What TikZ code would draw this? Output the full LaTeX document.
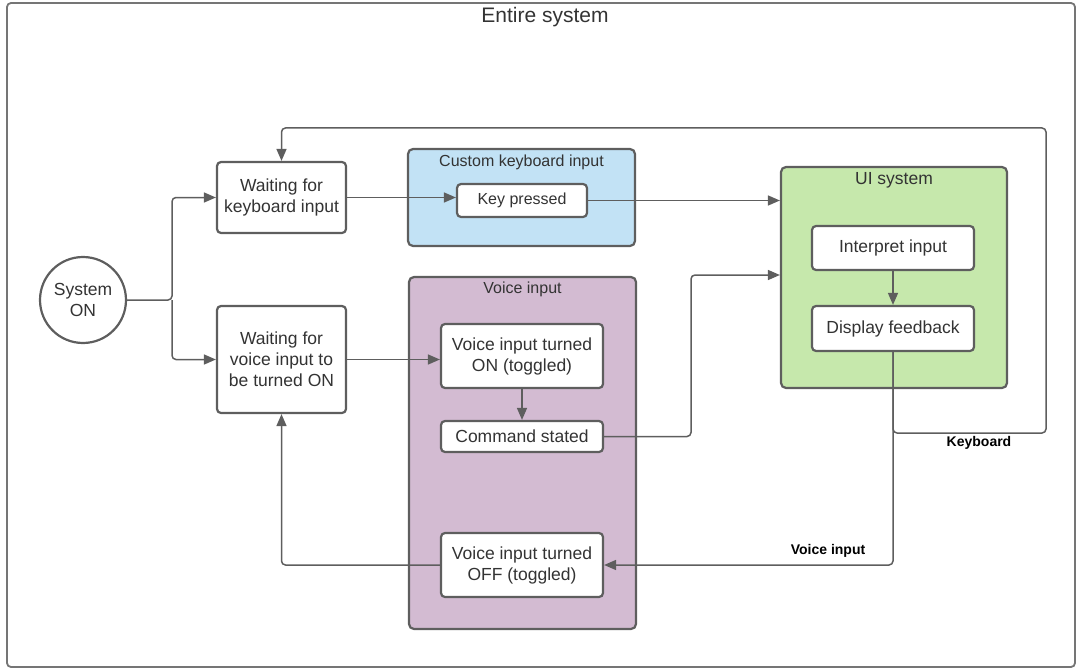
\documentclass[tikz,border=0pt]{standalone}
\usepackage{fontspec}
\setmainfont{Liberation Sans}
\usetikzlibrary{arrows.meta}
\definecolor{linegray}{HTML}{5E5E5E}
\definecolor{framegray}{HTML}{757575}
\definecolor{txtgray}{HTML}{333333}
\definecolor{kbblue}{RGB}{194,226,245}
\definecolor{uigreen}{RGB}{198,232,172}
\definecolor{vpurple}{RGB}{211,187,210}

\begin{document}
\begin{tikzpicture}[x=1pt, y=-1pt,
  every node/.style={text=txtgray},
  box/.style={draw=linegray, line width=2.2pt, fill=white, rounded corners=4pt, align=center, inner sep=0pt, font=\fontsize{17.5}{21}\selectfont},
  group/.style={draw=linegray, line width=2.2pt, rounded corners=5pt, inner sep=0pt},
  conn/.style={draw=linegray, line width=1.5pt, rounded corners=4pt, -{Triangle[length=12pt,width=10pt]}},
  lbl/.style={font=\fontsize{14}{16}\selectfont\bfseries, text=black}]
 \useasboundingbox (0,0) rectangle (1078,671);
 \draw[framegray, line width=1.8pt, rounded corners=4pt] (7,3) rectangle (1075,667);
 \node[font=\fontsize{21}{24}\selectfont] (title) at (545,17) {Entire system};

 % groups
 \node[group, fill=kbblue, minimum width=227, minimum height=97] (kbgrp) at (521.5,197.5) {};
 \node[group, fill=vpurple, minimum width=227, minimum height=352] (vgrp) at (522.5,453) {};
 \node[group, fill=uigreen, minimum width=226, minimum height=221] (uigrp) at (894,277.5) {};
 \node[font=\fontsize{16}{19}\selectfont] (kbtitle) at (521.5,162) {Custom keyboard input};
 \node[font=\fontsize{16}{19}\selectfont] (vtitle) at (522.5,289) {Voice input};
 \node[font=\fontsize{17.5}{21}\selectfont] (uititle) at (894,180) {UI system};

 % states
 \node[box, circle, minimum size=86] (sys) at (83,300) {System\\ON};
 \node[box, minimum width=129, minimum height=71] (kbdwait) at (281.5,197.5) {Waiting for\\keyboard input};
 \node[box, minimum width=129, minimum height=107] (voicewait) at (281.5,359.5) {Waiting for\\voice input to\\be turned ON};
 \node[box, minimum width=130, minimum height=33, font=\fontsize{16}{19}\selectfont] (keypress) at (522,200.5) {Key pressed};
 \node[box, minimum width=162, minimum height=64] (von) at (522,356) {Voice input turned\\ON (toggled)};
 \node[box, minimum width=162, minimum height=31] (cmd) at (522,436.5) {Command stated};
 \node[box, minimum width=162, minimum height=64] (voff) at (522,565) {Voice input turned\\OFF (toggled)};
 \node[box, minimum width=162, minimum height=44] (interp) at (893,248) {Interpret input};
 \node[box, minimum width=162, minimum height=45] (display) at (893,328.5) {Display feedback};

 \coordinate (branch) at (172,300);
 \coordinate (cmdbend) at (691,275);
 \coordinate (kbret) at (1046,433);
 \coordinate (kbtop) at (281.5,128);

 % connectors
 \draw[conn] (sys.east) -- (branch) |- (kbdwait.west);
 \draw[conn] (branch) |- (voicewait.west);
 \draw[conn] (kbdwait.east) -- (kbdwait.east -| keypress.west);
 \draw[conn] (keypress.east) -- (keypress.east -| uigrp.west);
 \draw[conn] (voicewait.east) -- (voicewait.east -| von.west);
 \draw[conn] (von) -- (cmd);
 \draw[conn] (cmd.east) -| (cmdbend) -- (cmdbend -| uigrp.west);
 \draw[conn] (interp) -- (display);
 \draw[conn] (display.south) |- (kbret) |- (kbtop) -- (kbdwait.north);
 \draw[conn] (display.south) |- (voff.east);
 \draw[conn] (voff.west) -| (voicewait.south);
 \node[lbl] (kblbl) at (979,443) {Keyboard};
 \node[lbl] (vlbl) at (828,551) {Voice input};
\end{tikzpicture}
\end{document}
